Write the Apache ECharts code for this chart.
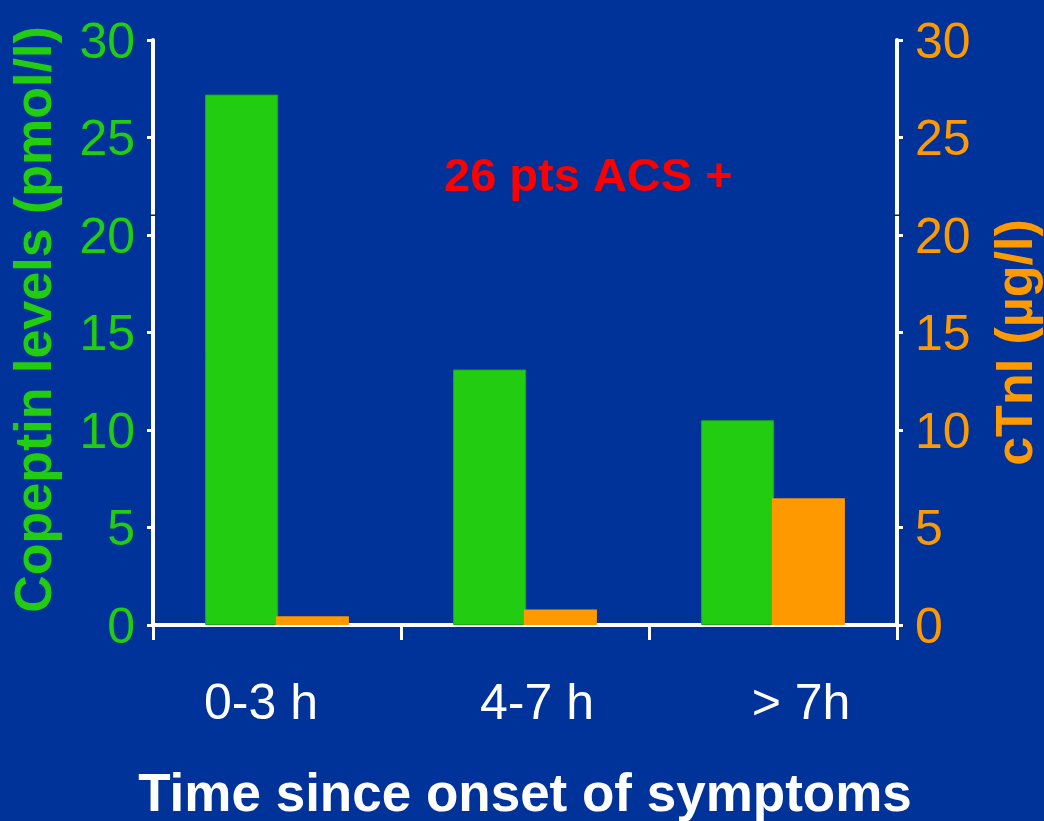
<!DOCTYPE html>
<html>
<head>
<meta charset="utf-8">
<script src="https://cdn.jsdelivr.net/npm/echarts@6/dist/echarts.min.js"></script>
<style>
  html, body { margin: 0; padding: 0; background: #003399; }
  #chart { width: 1044px; height: 821px; }
</style>
</head>
<body>
<div id="chart"></div>
<script>
// Time windows after symptom onset
const categories = ['0-3 h', '4-7 h', '> 7h'];
// Median copeptin (pmol/l), left axis
const copeptin = [27.2, 13.1, 10.5];
// Median cardiac troponin I (µg/l), right axis
const ctni = [0.45, 0.8, 6.5];
// Shared tick range for both value axes
const axisMin = 0;
const axisMax = 30;
const axisStep = 5;
// Value where the axis lines are drawn as broken
const breakValue = 21;

const FONT = '"Liberation Sans", Arial, sans-serif';
const GREEN = '#22cc11';
const ORANGE = '#ff9900';
const WHITE = '#ffffff';

// Horizontal nudges of the category labels (left/right padding)
const labelPads = [[0, 32, 0, 0], [0, 0, 0, 24], [0, 0, 0, 56]];

const chart = echarts.init(document.getElementById('chart'), null, { renderer: 'canvas' });

function valueAxis(color, name, position, gap, size, pad) {
  return {
    type: 'value',
    position: position,
    min: axisMin,
    max: axisMax,
    interval: axisStep,
    name: name,
    nameLocation: 'middle',
    nameRotate: 90,
    nameGap: gap,
    nameTextStyle: { color: color, fontFamily: FONT, fontWeight: 'bold', fontSize: size, padding: pad },
    axisLine: { show: true, lineStyle: { color: WHITE, width: 4 } },
    axisTick: { show: true, length: 6, lineStyle: { color: WHITE, width: 3 } },
    axisLabel: {
      margin: 18,
      formatter: '{t|{value}}',
      rich: { t: { color: color, fontFamily: FONT, fontSize: 50, padding: [8, 0, 0, 0] } }
    },
    splitLine: { show: false }
  };
}

chart.setOption({
  backgroundColor: '#003399',
  animation: false,
  title: {
    text: '26 pts ACS +',
    left: 439,
    top: 150,
    textStyle: { color: '#ff0000', fontFamily: FONT, fontWeight: 'bold', fontSize: 47 }
  },
  grid: { left: 153, right: 147, top: 40, bottom: 196, containLabel: false, outerBoundsMode: 'none' },
  xAxis: {
    type: 'category',
    data: categories.map(function (c, i) {
      return { value: c, textStyle: { padding: labelPads[i] } };
    }),
    boundaryGap: true,
    name: 'Time since onset of symptoms',
    nameLocation: 'middle',
    nameGap: 145,
    nameTextStyle: { color: WHITE, fontFamily: FONT, fontWeight: 'bold', fontSize: 53 },
    axisLine: { show: true, lineStyle: { color: WHITE, width: 4 } },
    axisTick: { show: true, length: 15, interval: 0, lineStyle: { color: WHITE, width: 3 } },
    axisLabel: { color: WHITE, fontFamily: FONT, fontSize: 50, margin: 55, interval: 0 }
  },
  yAxis: [
    valueAxis(GREEN, 'Copeptin levels (pmol/l)', 'left', 90, 52, [0, 0, 0, 26]),
    valueAxis(ORANGE, 'cTnI (µg/l)', 'right', 95, 52, [0, 20, 0, 0])
  ],
  series: [
    {
      name: 'Copeptin',
      type: 'bar',
      yAxisIndex: 0,
      data: copeptin,
      barWidth: 73,
      barGap: '-3%',
      itemStyle: { color: GREEN, borderColor: '#1fa815', borderWidth: 1 }
    },
    {
      name: 'cTnI',
      type: 'bar',
      yAxisIndex: 1,
      data: ctni,
      barWidth: 73,
      barGap: '-3%',
      itemStyle: { color: ORANGE }
    }
  ]
});

// Short dark notches marking the broken segment on both value axes
function drawBreaks() {
  const yPix = chart.convertToPixel({ yAxisIndex: 0 }, breakValue);
  const rect = chart.getModel().getComponent('grid', 0).coordinateSystem.getRect();
  chart.setOption({
    graphic: [rect.x, rect.x + rect.width].map(function (x, i) {
      return {
        type: 'rect',
        id: 'break' + i,
        shape: { x: x - 3, y: yPix - 1, width: 6, height: 1.5 },
        style: { fill: '#10203a' },
        z: 100
      };
    })
  });
}
drawBreaks();
</script>
</body>
</html>
